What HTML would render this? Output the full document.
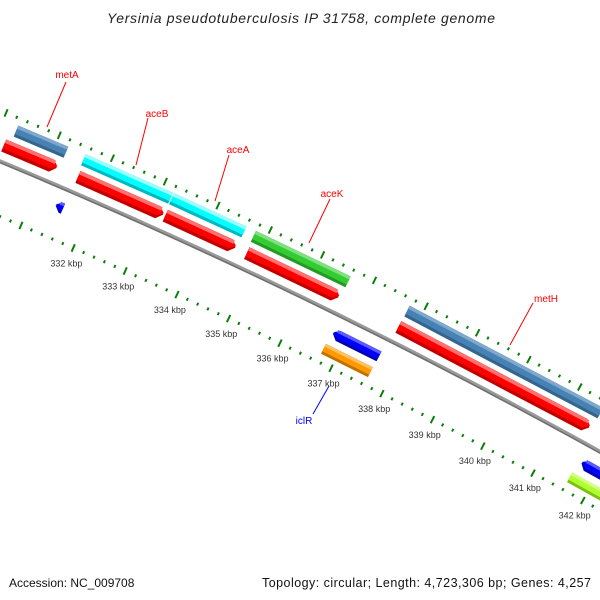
<!DOCTYPE html>
<html><head><meta charset="utf-8"><style>
html,body{margin:0;padding:0;background:#fff;}
svg{display:block;font-family:"Liberation Sans",sans-serif;}
</style></head><body>
<svg id="map" width="600" height="600" viewBox="0 0 600 600" xmlns="http://www.w3.org/2000/svg">
<rect width="600" height="600" fill="#fff"/>
<text x="301" y="23" text-anchor="middle" font-size="14" font-style="italic" fill="#222" textLength="388">Yersinia pseudotuberculosis IP 31758, complete genome</text>
<g id="rings"></g>
<g id="backbone"></g>
<g id="feats"></g>
<g id="labels">
<line x1="66" y1="82" x2="47" y2="127" stroke="#f00" stroke-width="1"/>
<text x="67" y="78" font-size="10" fill="#f00" text-anchor="middle">metA</text>
<line x1="148" y1="118" x2="136" y2="165" stroke="#f00" stroke-width="1"/>
<text x="157" y="117" font-size="10" fill="#f00" text-anchor="middle">aceB</text>
<line x1="229" y1="155" x2="215" y2="201" stroke="#f00" stroke-width="1"/>
<text x="238" y="153" font-size="10" fill="#f00" text-anchor="middle">aceA</text>
<line x1="330" y1="199" x2="309" y2="243" stroke="#f00" stroke-width="1"/>
<text x="332" y="197" font-size="10" fill="#f00" text-anchor="middle">aceK</text>
<line x1="533" y1="303" x2="510" y2="345" stroke="#f00" stroke-width="1"/>
<text x="546" y="302" font-size="10" fill="#f00" text-anchor="middle">metH</text>
<line x1="313" y1="414" x2="329" y2="386" stroke="#00f" stroke-width="1"/>
<text x="304" y="424" font-size="10" fill="#00f" text-anchor="middle">iclR</text>
</g>
<text x="9" y="587" font-size="12" fill="#111">Accession: NC_009708</text>
<text x="591" y="587" font-size="12.5" fill="#111" text-anchor="end" textLength="329">Topology: circular; Length: 4,723,306 bp; Genes: 4,257</text>
</svg>
<script>
// data (kbp)
const fwdStarts = [330.18, 331.58, 333.24, 334.80, 337.73];
const fwdEnds   = [331.18, 333.20, 334.58, 336.57, 341.48];
const outerStarts = [330.28, 331.55, 333.22, 334.78, 337.74];
const outerEnds   = [331.22, 333.20, 334.60, 336.60, 341.53];
const outerNames  = ["metA", "aceB", "aceA", "aceK", "metH"];
const outerColors = ["steelblue", "cyan", "cyan", "green", "steelblue"];
const revStarts = [331.42, 336.76, 341.66];
const revEnds   = [331.56, 337.66, 342.60];
const rev2Starts = [336.73, 341.60];
const rev2Ends   = [337.65, 342.60];
const rev2Colors = ["orange", "lime"];
const tickLabels = [332, 333, 334, 335, 336, 337, 338, 339, 340, 341, 342];

const NS = "http://www.w3.org/2000/svg";
const CX = -2310.2, CY = 5698.7, R = 6000;
function ang(k){ return (-66.382 + (k - 332) * 0.548) * Math.PI / 180; }
function pt(k, r){ const a = ang(k); return [CX + r*Math.cos(a), CY + r*Math.sin(a)]; }
function mk(tag, attrs, parent){ const e = document.createElementNS(NS, tag); for (const a in attrs) e.setAttribute(a, attrs[a]); parent.appendChild(e); return e; }
const PAL = {
  red:{l:"#ff7070", m:"#ff0000", d:"#c00000"},
  steelblue:{l:"#7fa8cc", m:"#4682b4", d:"#35648c"},
  cyan:{l:"#9effff", m:"#00ffff", d:"#00b8c0"},
  green:{l:"#7ee07e", m:"#33cc33", d:"#249a24"},
  blue:{l:"#5a5aff", m:"#0000ff", d:"#0000b0"},
  orange:{l:"#ffc060", m:"#ff9900", d:"#c07000"},
  lime:{l:"#d4ff80", m:"#adff2f", d:"#7cc010"}
};
function band(g, k1, k2, r1, r2, fill, tip){
  const tl = 0.1, rm = (r1 + r2) / 2;
  let p = [];
  if (tip === 1) { p = [pt(k1,r2), pt(k2-tl,r2), pt(k2,rm), pt(k2-tl,r1), pt(k1,r1)]; }
  else if (tip === -1) { p = [pt(k1+tl,r2), pt(k2,r2), pt(k2,r1), pt(k1+tl,r1), pt(k1,rm)]; }
  else { p = [pt(k1,r2), pt(k2,r2), pt(k2,r1), pt(k1,r1)]; }
  return mk("polygon", {points: p.map(q => q[0].toFixed(1)+","+q[1].toFixed(1)).join(" "), fill: fill}, g);
}
function feature(k1, k2, rc, h, color, tip, name){
  const g = mk("g", {}, document.getElementById("feats"));
  
  
  const c = PAL[color];
  const lo = rc - h/2, hi = rc + h/2;
  band(g, k1, k2, lo, hi, c.d, tip);
  band(g, k1, k2, lo + h*0.25, hi, c.m, tip);
  const kk1 = tip === -1 ? k1 + 0.06 : k1, kk2 = tip === 1 ? k2 - 0.06 : k2;
  band(g, kk1, kk2, hi - h*0.28, hi, c.l, 0);
}
// backbone
(function(){
  const g = document.getElementById("backbone");
  let a = [], b = [];
  for (let k = 328; k <= 344; k += 0.25) { a.push(pt(k, R + 2)); b.push(pt(k, R - 2)); }
  const poly = a.concat(b.reverse()).map(q => q[0].toFixed(1)+","+q[1].toFixed(1)).join(" ");
  const e = mk("polygon", {points: poly, fill: "#999"}, g);
  
  
  let c = [];
  for (let k = 328; k <= 344; k += 0.25) c.push(pt(k, R - 1.2));
  const e2 = mk("polyline", {points: c.map(q => q[0].toFixed(1)+","+q[1].toFixed(1)).join(" "), fill: "none", stroke: "#6e6e6e", "stroke-width": 1.4}, g);
  
  
})();
// tick rings
(function(){
  const g = document.getElementById("rings");
  const rings = [R + 47, R - 51];
  rings.forEach((rr, ri) => {
    for (let i = 0; i <= 75; i++) {
      const k = 328 + i * 0.2;
      const major = i % 5 === 0;
      const len = major ? 4 : 1.5;
      const p1 = pt(k, rr - len), p2 = pt(k, rr + len);
      const t = mk("line", {x1: p1[0].toFixed(1), y1: p1[1].toFixed(1), x2: p2[0].toFixed(1), y2: p2[1].toFixed(1), stroke: "#0b7d0b", "stroke-width": 2}, g);
      
      
    }
  });
  tickLabels.forEach(k => {
    const p = pt(k, R - 68);
    const t = mk("text", {x: p[0].toFixed(1), y: (p[1] + 3).toFixed(1), "font-size": 9, fill: "#333", "text-anchor": "middle"}, g);
    t.textContent = k + " kbp";
    
    
  });
})();
// features
for (let i = 0; i < outerStarts.length; i++) feature(outerStarts[i], outerEnds[i], R + 34, 12, outerColors[i], 0, outerNames[i] + "-gene");
for (let i = 0; i < fwdStarts.length; i++) feature(fwdStarts[i], fwdEnds[i], R + 16, 13, "red", 1, "forward-cds-" + outerNames[i]);
for (let i = 0; i < revStarts.length; i++) feature(revStarts[i], revEnds[i], R - 19, 11, "blue", -1, "reverse-cds");
for (let i = 0; i < rev2Starts.length; i++) feature(rev2Starts[i], rev2Ends[i], R - 37, 11, rev2Colors[i], 0, "reverse-gene");
</script>
</body></html>
